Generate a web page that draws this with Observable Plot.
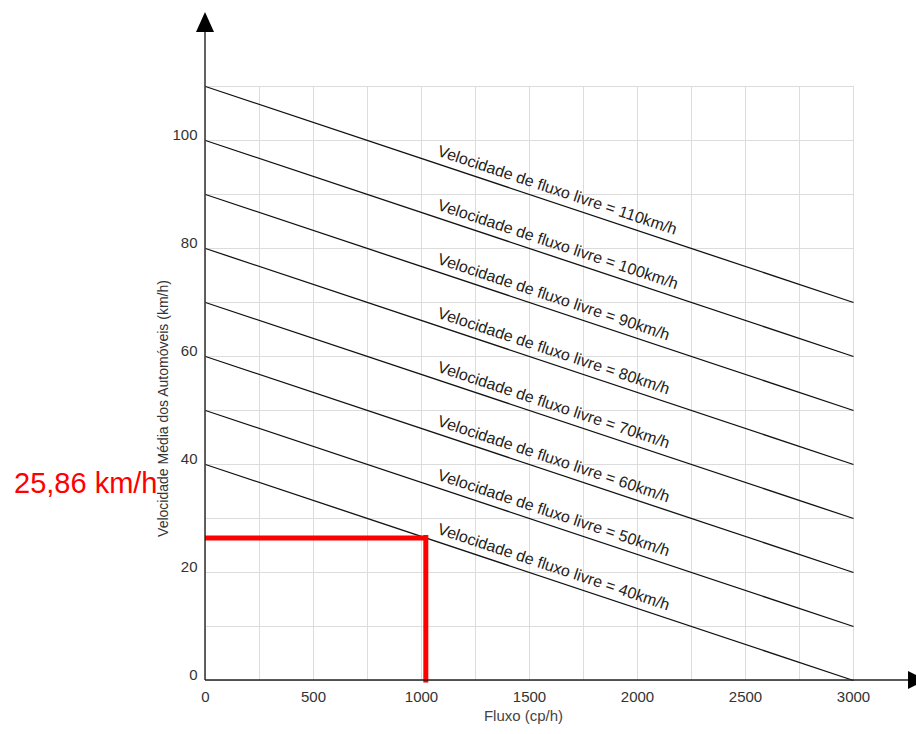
<!DOCTYPE html>
<html><head><meta charset="utf-8">
<script src="https://cdn.jsdelivr.net/npm/d3@7"></script>
<script src="https://cdn.jsdelivr.net/npm/@observablehq/plot@0.6"></script>
<style>body{margin:0;background:#fff;overflow:hidden;}</style>
</head><body><div id="chart"></div>
<script>
// ---- data ----
const freeFlowSpeeds = [110, 100, 90, 80, 70, 60, 50, 40];   // speed at flow = 0
const endSpeeds      = [70, 60, 50, 40, 30, 20, 10, 0];      // speed at flow = 3000
const flowStart = 0;
const flowEnd = 3000;
const labelFlow = 1070;                                      // where the curve labels start
const xTicks = [0, 500, 1000, 1500, 2000, 2500, 3000];
const yTicks = [0, 20, 40, 60, 80, 100];
const xGridValues = [0, 250, 500, 750, 1000, 1250, 1500, 1750, 2000, 2250, 2500, 2750, 3000];
const yGridValues = [0, 10, 20, 30, 40, 50, 60, 70, 80, 90, 100, 110];
const resultFlow = 1020;
const resultSpeed = 26.4;
const resultLabel = "25,86 km/h";

// ---- table built from the arrays ----
const curves = freeFlowSpeeds.map((s, i) => ({
  ffs: s, x1: flowStart, y1: s, x2: flowEnd, y2: endSpeeds[i],
  lx: labelFlow, ly: s + (endSpeeds[i] - s) * (labelFlow - flowStart) / (flowEnd - flowStart),
  label: `Velocidade de fluxo livre = ${s}km/h`
}));

const W = 916, H = 734;
const mL = 205, mR = 63, mT = 86, mB = 54;
const pxX = (W - mL - mR) / (flowEnd - flowStart);
const pxY = (H - mT - mB) / 110;
const angle = Math.atan((freeFlowSpeeds[0] - endSpeeds[0]) * pxY / ((flowEnd - flowStart) * pxX)) * 180 / Math.PI;

// axes with arrowheads, drawn through the scales
function arrowAxes(index, scales, values, dims) {
  const g = d3.create("svg:g");
  const x0 = scales.x(0), y0 = scales.y(0);
  const top = 12, right = W + 10;
  g.append("line").attr("x1", x0).attr("y1", y0).attr("x2", x0).attr("y2", top + 18)
    .attr("stroke", "#222").attr("stroke-width", 1.4);
  g.append("path").attr("d", `M${x0},${top} L${x0 - 9},${top + 20} L${x0 + 9},${top + 20} Z`).attr("fill", "#000");
  g.append("line").attr("x1", x0).attr("y1", y0).attr("x2", right - 17).attr("y2", y0)
    .attr("stroke", "#222").attr("stroke-width", 1.4);
  g.append("path").attr("d", `M${right},${y0} L${right - 18},${y0 - 9} L${right - 18},${y0 + 9} Z`).attr("fill", "#000");
  return g.node();
}

const chart = Plot.plot({
  width: W, height: H,
  marginLeft: mL, marginRight: mR, marginTop: mT, marginBottom: mB,
  style: {fontFamily: "'Liberation Sans', Arial, sans-serif", background: "#fff"},
  x: {domain: [flowStart, flowEnd]},
  y: {domain: [0, 110]},
  marks: [
    Plot.gridX(xGridValues, {stroke: "#dcdcdc", strokeOpacity: 1}),
    Plot.gridY(yGridValues, {stroke: "#dcdcdc", strokeOpacity: 1}),
    Plot.link(curves, {x1: "x1", y1: "y1", x2: "x2", y2: "y2", stroke: "#111", strokeWidth: 1.3}),
    Plot.text(curves, {x: "lx", y: "ly", text: "label", rotate: angle, textAnchor: "start",
      lineAnchor: "bottom", dy: -8, fontSize: 16, fill: "#222"}),
    Plot.ruleY([resultSpeed], {x1: flowStart, x2: resultFlow, stroke: "#ff0000", strokeWidth: 5}),
    Plot.ruleX([resultFlow], {y1: 0, y2: resultSpeed, stroke: "#ff0000", strokeWidth: 5, strokeLinecap: "square"}),
    arrowAxes,
    Plot.axisX({ticks: xTicks, tickFormat: d => String(d), tickSize: 0, tickPadding: 11, fontSize: 15, fill: "#333", label: null}),
    Plot.axisY({ticks: yTicks, tickFormat: d => String(d), tickSize: 0, tickPadding: 8, dy: -5, fontSize: 15, fill: "#333", label: null}),
    Plot.text(["Velocidade Média dos Automóveis (km/h)"], {frameAnchor: "left", textAnchor: "middle", rotate: -90, dx: -42, dy: 25, fontSize: 14, fill: "#333"}),
    Plot.text(["Fluxo (cp/h)"], {frameAnchor: "bottom", textAnchor: "middle", dx: -6, dy: 40, fontSize: 15, fill: "#444"}),
    Plot.text([resultLabel], {x: flowStart, y: resultSpeed, textAnchor: "end", dx: -48, dy: -54, fontSize: 29, fill: "#ff0000"})
  ]
});
document.getElementById("chart").append(chart);
</script>
</body></html>
